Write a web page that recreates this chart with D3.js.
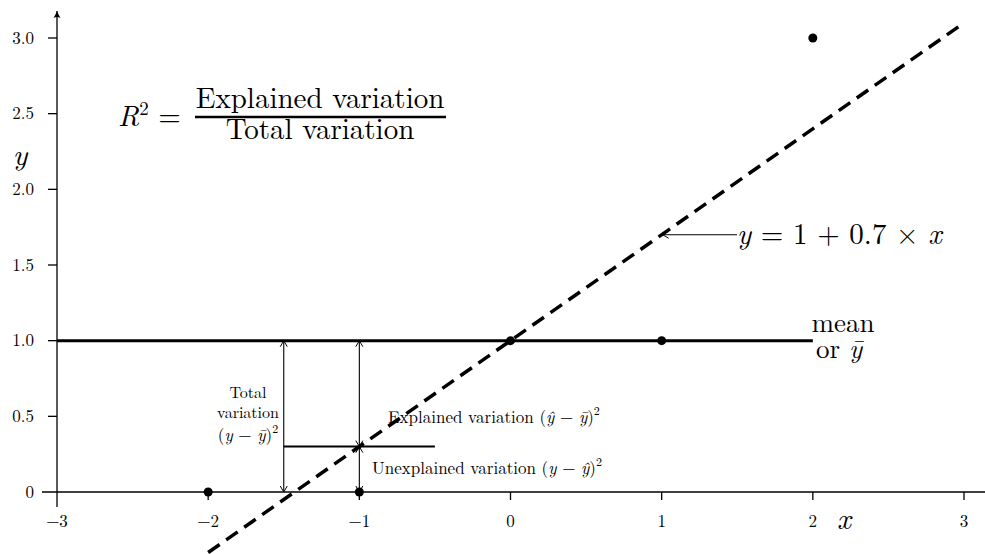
<!DOCTYPE html>
<html>
<head>
<meta charset="utf-8">
<script src="https://cdn.jsdelivr.net/npm/d3@7"></script>
<style>
  body { margin: 0; background: #fff; }
  text { font-family: "Latin Modern Roman", "Liberation Serif", "DejaVu Serif", serif; fill: #000; }
</style>
</head>
<body>
<svg id="chart" width="985" height="554"></svg>
<script>
// data
var xs = [-2, -1, 0, 1, 2];
var ys = [0, 0, 1, 1, 3];
var intercept = 1, slope = 0.7;
var meanY = 1;
var xTicks = [-3, -2, -1, 0, 1, 2, 3];
var xTickLabels = ["\u22123", "\u22122", "\u22121", "0", "1", "2", "3"];
var yTicks = [0, 0.5, 1, 1.5, 2, 2.5, 3];
var yTickLabels = ["0", "0.5", "1.0", "1.5", "2.0", "2.5", "3.0"];
var lineRange = [-2, 3];     // dashed fit line drawn across this x range
var meanRange = [-3, 2];     // mean line x range
var totalX = -1.5, totalYhat = 0.3;   // total-variation bracket
var pointX = -1;                       // point used to split the variation

var svg = d3.select("#chart");
var x = d3.scaleLinear().domain([-3, 3]).range([57, 964]);
var y = d3.scaleLinear().domain([0, 3]).range([492, 38]);

var defs = svg.append("defs");
defs.append("marker").attr("id", "open")
  .attr("viewBox", "-8 -5 10 10").attr("refX", 0).attr("refY", 0)
  .attr("markerWidth", 10).attr("markerHeight", 10)
  .attr("markerUnits", "userSpaceOnUse").attr("orient", "auto-start-reverse")
  .append("path").attr("d", "M-6,-3.5 L0,0 L-6,3.5")
  .attr("fill", "none").attr("stroke", "#000").attr("stroke-width", 1);
defs.append("marker").attr("id", "axisarrow")
  .attr("viewBox", "-8 -5 10 10").attr("refX", 0).attr("refY", 0)
  .attr("markerWidth", 10).attr("markerHeight", 10)
  .attr("markerUnits", "userSpaceOnUse").attr("orient", "auto")
  .append("path").attr("d", "M-7,-3.5 Q-3,-1 0,0 Q-3,1 -7,3.5 Q-5,0 -7,-3.5Z")
  .attr("fill", "#000");

// axes lines
svg.append("line").attr("x1", 42).attr("x2", 985).attr("y1", y(0)).attr("y2", y(0))
  .attr("stroke", "#000").attr("stroke-width", 1.3);
svg.append("line").attr("x1", x(-3)).attr("x2", x(-3)).attr("y1", 507).attr("y2", 11)
  .attr("stroke", "#000").attr("stroke-width", 1.3).attr("marker-end", "url(#axisarrow)");

// y ticks
yTicks.forEach(function(t, i) {
  if (t > 0) {
    svg.append("line").attr("x1", 48).attr("x2", x(-3)).attr("y1", y(t)).attr("y2", y(t))
      .attr("stroke", "#000").attr("stroke-width", 1.3);
  }
  svg.append("text").attr("x", 34).attr("y", y(t) + 5.5).attr("text-anchor", "end")
    .style("font-size", "17px").text(yTickLabels[i]);
});
// x ticks
xTicks.forEach(function(t, i) {
  if (t > -3) {
    svg.append("line").attr("x1", x(t)).attr("x2", x(t)).attr("y1", y(0)).attr("y2", 500)
      .attr("stroke", "#000").attr("stroke-width", 1.3);
  }
  svg.append("text").attr("x", x(t)).attr("y", 527).attr("text-anchor", "middle")
    .style("font-size", "17px").text(xTickLabels[i]);
});

// axis names
svg.append("text").attr("x", 20).attr("y", 165).attr("text-anchor", "middle")
  .style("font-size", "30px").style("font-style", "italic").text("y");
svg.append("text").attr("x", 844).attr("y", 529).attr("text-anchor", "middle")
  .style("font-size", "30px").style("font-style", "italic").text("x");

// mean line
svg.append("line").attr("x1", x(meanRange[0])).attr("x2", x(meanRange[1]))
  .attr("y1", y(meanY)).attr("y2", y(meanY))
  .attr("stroke", "#000").attr("stroke-width", 3);

// fitted line
var fit = function(v) { return intercept + slope * v; };
svg.append("line")
  .attr("x1", x(lineRange[0])).attr("y1", y(fit(lineRange[0])))
  .attr("x2", x(lineRange[1])).attr("y2", y(fit(lineRange[1])))
  .attr("stroke", "#000").attr("stroke-width", 3.5).attr("stroke-dasharray", "14,8");

// variation bracket
svg.append("line").attr("x1", x(totalX)).attr("x2", x(totalX + 1))
  .attr("y1", y(totalYhat)).attr("y2", y(totalYhat))
  .attr("stroke", "#000").attr("stroke-width", 2);
function arrow2(x1, y1, x2, y2) {
  svg.append("line").attr("x1", x1).attr("y1", y1).attr("x2", x2).attr("y2", y2)
    .attr("stroke", "#000").attr("stroke-width", 1.1)
    .attr("marker-start", "url(#open)").attr("marker-end", "url(#open)");
}
arrow2(x(totalX), y(meanY), x(totalX), y(0));
arrow2(x(pointX), y(meanY), x(pointX), y(fit(pointX)));
arrow2(x(pointX), y(fit(pointX)), x(pointX), y(0));

// points
svg.selectAll("circle.pt").data(xs).enter().append("circle").attr("class", "pt")
  .attr("cx", function(d) { return x(d); })
  .attr("cy", function(d, i) { return y(ys[i]); })
  .attr("r", 4.5).attr("fill", "#000");

// arrow to fit line
svg.append("line").attr("x1", 737).attr("y1", y(fit(1))).attr("x2", x(1) + 1).attr("y2", y(fit(1)))
  .attr("stroke", "#000").attr("stroke-width", 1.1).attr("marker-end", "url(#open)");

var eq = svg.append("text").attr("x", 737).attr("y", 244).style("font-size", "29px");
eq.append("tspan").style("font-style", "italic").text("y");
eq.append("tspan").text(" = 1 + 0.7 \u00d7 ");
eq.append("tspan").style("font-style", "italic").text("x");

svg.append("text").attr("x", 843).attr("y", 332).attr("text-anchor", "middle")
  .style("font-size", "27px").text("mean");
var orY = svg.append("text").attr("x", 816).attr("y", 358).style("font-size", "27px");
orY.append("tspan").text("or ");
orY.append("tspan").style("font-style", "italic").text("\u0233");

// R^2 formula
var r2 = svg.append("text").attr("x", 118).attr("y", 126).style("font-size", "29px");
r2.append("tspan").style("font-style", "italic").text("R");
r2.append("tspan").attr("dy", -11).style("font-size", "19px").text("2");
r2.append("tspan").attr("dy", 11).text(" =");
svg.append("line").attr("x1", 195).attr("x2", 446).attr("y1", 117).attr("y2", 117)
  .attr("stroke", "#000").attr("stroke-width", 2.5);
svg.append("text").attr("x", 320).attr("y", 108).attr("text-anchor", "middle")
  .style("font-size", "29px").text("Explained variation");
svg.append("text").attr("x", 320).attr("y", 139).attr("text-anchor", "middle")
  .style("font-size", "29px").text("Total variation");

// small labels
svg.append("text").attr("x", 248).attr("y", 398).attr("text-anchor", "middle")
  .style("font-size", "16px").text("Total");
svg.append("text").attr("x", 248).attr("y", 418).attr("text-anchor", "middle")
  .style("font-size", "16px").text("variation");
var tv = svg.append("text").attr("x", 248).attr("y", 441).attr("text-anchor", "middle")
  .style("font-size", "17px");
tv.append("tspan").text("(");
tv.append("tspan").style("font-style", "italic").text("y");
tv.append("tspan").text(" \u2212 ");
tv.append("tspan").style("font-style", "italic").text("\u0233");
tv.append("tspan").text(")");
tv.append("tspan").attr("dy", -8).style("font-size", "12px").text("2");

var ex = svg.append("text").attr("x", 388).attr("y", 423).style("font-size", "17px");
ex.append("tspan").text("Explained variation (");
ex.append("tspan").style("font-style", "italic").text("\u0177");
ex.append("tspan").text(" \u2212 ");
ex.append("tspan").style("font-style", "italic").text("\u0233");
ex.append("tspan").text(")");
ex.append("tspan").attr("dy", -8).style("font-size", "12px").text("2");

var un = svg.append("text").attr("x", 372).attr("y", 474).style("font-size", "17px");
un.append("tspan").text("Unexplained variation (");
un.append("tspan").style("font-style", "italic").text("y");
un.append("tspan").text(" \u2212 ");
un.append("tspan").style("font-style", "italic").text("\u0177");
un.append("tspan").text(")");
un.append("tspan").attr("dy", -8).style("font-size", "12px").text("2");
</script>
</body>
</html>
